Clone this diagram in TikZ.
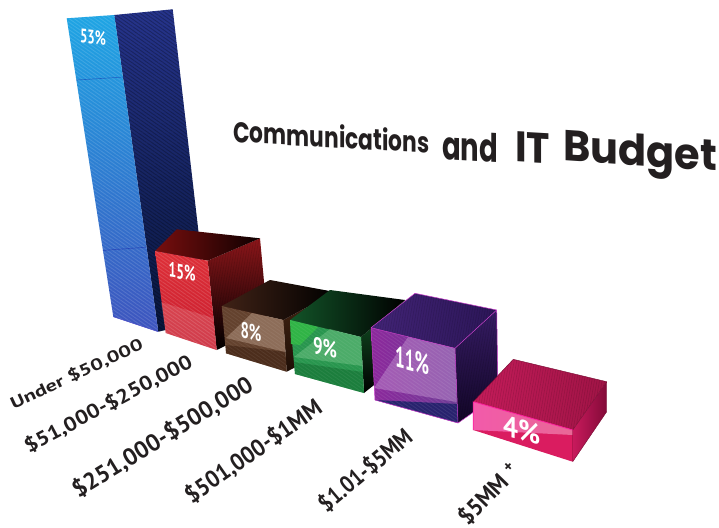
\documentclass[tikz,border=0pt]{standalone}
\usepackage{fontspec}
\setmainfont{PT Sans}
\newfontfamily\titlefont{Poppins}
\usetikzlibrary{patterns.meta,calc}
\definecolor{ink}{HTML}{231F20}
% blue
\definecolor{bSideT}{RGB}{38,52,140}
\definecolor{bSideB}{RGB}{8,22,60}
\definecolor{bFrontT}{RGB}{30,165,228}
\definecolor{bFrontB}{RGB}{62,84,190}
\definecolor{bEdge}{RGB}{70,70,200}
% red
\definecolor{rSide}{RGB}{140,22,26}
\definecolor{rTopL}{RGB}{120,14,14}
\definecolor{rTopR}{RGB}{14,0,0}
\definecolor{rFrontT}{RGB}{222,48,56}
\definecolor{rFrontB}{RGB}{200,28,46}
% brown
\definecolor{wSideT}{RGB}{70,38,20}
\definecolor{wSideB}{RGB}{30,14,6}
\definecolor{wTopL}{RGB}{64,34,22}
\definecolor{wFront}{RGB}{100,66,46}
\definecolor{wLight}{RGB}{176,146,126}
\definecolor{wDark}{RGB}{60,32,16}
% green
\definecolor{gSide}{RGB}{20,90,40}
\definecolor{gTopL}{RGB}{18,84,40}
\definecolor{gFront}{RGB}{40,150,78}
\definecolor{gBright}{RGB}{48,180,70}
\definecolor{gLight}{RGB}{120,200,140}
\definecolor{gDark}{RGB}{20,110,50}
% purple
\definecolor{pSideT}{RGB}{54,28,100}
\definecolor{pSideB}{RGB}{18,6,38}
\definecolor{pTopL}{RGB}{66,36,118}
\definecolor{pTopR}{RGB}{44,22,88}
\definecolor{pFrontL}{RGB}{140,40,156}
\definecolor{pFrontR}{RGB}{110,60,150}
\definecolor{pLight}{RGB}{190,140,205}
\definecolor{pNavy}{RGB}{40,34,110}
\definecolor{pEdge}{RGB}{200,60,200}
% pink
\definecolor{kSideL}{RGB}{200,26,92}
\definecolor{kSideR}{RGB}{130,10,56}
\definecolor{kTopL}{RGB}{196,28,90}
\definecolor{kTopR}{RGB}{160,20,70}
\definecolor{kFront}{RGB}{218,28,96}
\definecolor{kLightL}{RGB}{242,90,170}
\definecolor{kLightR}{RGB}{232,104,150}
\definecolor{kEdge}{RGB}{255,30,160}
\definecolor{kDark}{RGB}{120,10,50}
\tikzset{
  ttl/.style={inner sep=0pt, text=ink, font=\titlefont\bfseries, yslant=-0.056},
  lbl/.style={inner sep=0pt, text=ink, font=\bfseries, anchor=center},
  pct/.style={inner sep=0pt, text=white, font=\bfseries, anchor=center},
  stripesw/.style={pattern={Lines[angle=-35,distance=3pt,line width=0.9pt]}, pattern color=white, opacity=0.13},
  stripesk/.style={pattern={Lines[angle=-35,distance=3pt,line width=0.9pt]}, pattern color=black, opacity=0.25},
  vstripes/.style={pattern={Lines[angle=80,distance=2.5pt,line width=0.6pt]}, pattern color=black, opacity=0.12},
}
\begin{document}
\begin{tikzpicture}[x=1pt,y=-1pt]
\useasboundingbox (0,0) rectangle (719,527);
\fill[white] (0,0) rectangle (719,527);

% ---------- blue bar (53%)
\coordinate (b1) at (66.7,18.3);
\coordinate (b2) at (114.3,15);
\coordinate (b3) at (172.7,9.3);
\coordinate (b4) at (208.7,320);
\coordinate (b5) at (158.3,331.7);
\coordinate (b6) at (113.3,316.7);
\shade[top color=bSideT, bottom color=bSideB] (b2)--(b3)--(b4)--(b5)--cycle;
\fill[stripesk] (b2)--(b3)--(b4)--(b5)--cycle;
\shade[top color=bFrontT, bottom color=bFrontB] (b1)--(b2)--(b5)--(b6)--cycle;
\fill[stripesw] (b1)--(b2)--(b5)--(b6)--cycle;
\draw[blue!60!black, opacity=0.35, line width=0.6pt] ($(b1)!0.207!(b6)$) -- ($(b2)!0.196!(b5)$);
\draw[blue!60!black, opacity=0.35, line width=0.6pt] ($(b1)!0.778!(b6)$) -- ($(b2)!0.733!(b5)$);
\draw[bEdge, line width=0.5pt] (b6)--(b5);

% ---------- red box (15%)
\coordinate (r1) at (155,251);
\coordinate (r2) at (207.7,260.7);
\coordinate (r3) at (216.7,350);
\coordinate (r4) at (165.7,333);
\coordinate (r5) at (176.7,229.3);
\coordinate (r6) at (260,238.3);
\coordinate (r7) at (268,325);
\shade[top color=rSide, bottom color=black] (r2)--(r6)--(r7)--(r3)--cycle;
\fill[vstripes] (r2)--(r6)--(r7)--(r3)--cycle;
\shade[left color=rTopL, right color=rTopR] (r1)--(r5)--(r6)--(r2)--cycle;
\shade[top color=rFrontT, bottom color=rFrontB] (r1)--(r2)--(r3)--(r4)--cycle;
\fill[stripesw] (r1)--(r2)--(r3)--(r4)--cycle;
\fill[white, opacity=0.14] (161,302)--(213,318)--(r3)--(r4)--cycle;

% ---------- brown box (8%)
\coordinate (w1) at (221.7,306);
\coordinate (w2) at (283.3,320);
\coordinate (w3) at (286.7,371.7);
\coordinate (w4) at (226,353.3);
\coordinate (w5) at (270,280);
\coordinate (w6) at (335,292);
\coordinate (w7) at (338,345);
\shade[top color=wSideT, bottom color=wSideB] (w2)--(w6)--(w7)--(w3)--cycle;
\shade[left color=wTopL, right color=black] (w1)--(w5)--(w6)--(w2)--cycle;
\fill[wFront] (w1)--(w2)--(w3)--(w4)--cycle;
\fill[wLight, opacity=0.55] (252,313)--(w2)--(285.5,352)--(226,338)--cycle;
\fill[wDark, opacity=0.6] (226,345)--(285.5,352)--(w3)--(w4)--cycle;
\fill[stripesw, opacity=0.06] (w1)--(w2)--(w3)--(w4)--cycle;

% ---------- green box (9%)
\coordinate (g1) at (290,320);
\coordinate (g2) at (361,337);
\coordinate (g3) at (364,393);
\coordinate (g4) at (295,374);
\coordinate (g5) at (330,290);
\coordinate (g6) at (405,300);
\coordinate (g7) at (408,358);
\shade[top color=gSide, bottom color=black] (g2)--(g6)--(g7)--(g3)--cycle;
\shade[left color=gTopL, right color=black] (g1)--(g5)--(g6)--(g2)--cycle;
\fill[gFront] (g1)--(g2)--(g3)--(g4)--cycle;
\fill[gBright] (g1)--(318,327)--(300,345)--(291,344)--cycle;
\fill[gLight, opacity=0.45] (330,329)--(g2)--(362.5,366)--(294,357)--cycle;
\fill[gDark, opacity=0.6] (294,362)--(362.5,372)--(g3)--(g4)--cycle;
\fill[stripesw, opacity=0.06] (g1)--(g2)--(g3)--(g4)--cycle;

% ---------- purple box (11%)
\coordinate (p1) at (371,327.7);
\coordinate (p2) at (455,348.3);
\coordinate (p3) at (458,423);
\coordinate (p4) at (375,400);
\coordinate (p5) at (415,293.3);
\coordinate (p6) at (496.7,310);
\coordinate (p7) at (498,395);
\shade[top color=pSideT, bottom color=pSideB] (p2)--(p6)--(p7)--(p3)--cycle;
\fill[vstripes] (p2)--(p6)--(p7)--(p3)--cycle;
\shade[left color=pTopL, right color=pTopR] (p1)--(p5)--(p6)--(p2)--cycle;
\fill[vstripes] (p1)--(p5)--(p6)--(p2)--cycle;
\shade[left color=pFrontL, right color=pFrontR] (p1)--(p2)--(p3)--(p4)--cycle;
\fill[pLight, opacity=0.5] (408,337)--(p2)--(456.7,402)--(374,388)--cycle;
\fill[pNavy] (p4)--(458,404)--(p3)--cycle;
\fill[stripesw, opacity=0.08] (p1)--(p2)--(p3)--(p4)--cycle;
\draw[pEdge, line width=0.5pt, line join=round] (p4)--(p1)--(p2)--(p3)--cycle (p1)--(p5)--(p6)--(p2) (p6)--(p7)--(p3);

% ---------- pink box (4%)
\coordinate (k1) at (473.3,401.7);
\coordinate (k2) at (572.7,430);
\coordinate (k3) at (572.7,461.7);
\coordinate (k4) at (473.3,430);
\coordinate (k5) at (513.3,359.3);
\coordinate (k6) at (606.7,381.7);
\coordinate (k7) at (606.7,411.7);
\shade[left color=kSideL, right color=kSideR] (k2)--(k6)--(k7)--(k3)--cycle;
\shade[left color=kTopL, right color=kTopR] (k1)--(k5)--(k6)--(k2)--cycle;
\fill[vstripes] (k1)--(k5)--(k6)--(k2)--cycle;
\fill[kFront] (k1)--(k2)--(k3)--(k4)--cycle;
\shade[left color=kLightL, right color=kLightR] (k1)--(k2)--(572.7,435)--(k4)--cycle;
\draw[kEdge, line width=0.8pt] (k4)--(k1)--(k2);
\draw[kDark, line width=0.4pt, line join=round] (k1)--(k5)--(k6)--(k2) (k6)--(k7)--(k3)--(k2);

% ---------- percentages
\node[pct, yslant=-0.10] (v53) at (93,37) {\resizebox{26pt}{14pt}{53\%}};
\node[pct, yslant=-0.19] (v15) at (182,272) {\resizebox{27pt}{15pt}{15\%}};
\node[pct, yslant=-0.21] (v8) at (251,332) {\resizebox{21pt}{16pt}{8\%}};
\node[pct, yslant=-0.23] (v9) at (325,348) {\resizebox{24pt}{17pt}{9\%}};
\node[pct, yslant=-0.27] (v11) at (412,361) {\resizebox{34pt}{21pt}{11\%}};
\node[pct, yslant=-0.27] (v4) at (522,430) {\resizebox{37pt}{21pt}{4\%}};

% ---------- category labels
\node[lbl] (c1) at (76.7,374) {\rotatebox{25}{\resizebox{144pt}{13pt}{Under \$50,000}}};
\node[lbl] (c2) at (108.3,404.2) {\rotatebox{28}{\resizebox{187pt}{16pt}{\$51,000-\$250,000}}};
\node[lbl] (c3) at (162.5,437.5) {\rotatebox{31.5}{\resizebox{207pt}{19pt}{\$251,000-\$500,000}}};
\node[lbl] (c4) at (253.3,451.7) {\rotatebox{35}{\resizebox{161pt}{19pt}{\$501,000-\$1MM}}};
\node[lbl] (c5) at (365,470) {\rotatebox{40}{\resizebox{114pt}{19pt}{\$1.01-\$5MM}}};
\node[lbl] (c6) at (488,494) {\rotatebox{46}{\resizebox{75pt}{19pt}{\$5MM\hspace{0.3em}\raisebox{0.3em}{\scriptsize +}}}};

% ---------- title
\node[ttl, anchor=base west] (t1) at (233,142) {\resizebox{196pt}{23pt}{Communications}};
\node[ttl, anchor=base west] (t2) at (442,159.5) {\resizebox{56pt}{29pt}{and}};
\node[ttl, anchor=base west] (t3) at (515,161.5) {\resizebox{35pt}{30pt}{IT}};
\node[ttl, anchor=base west, yslant=-0.012] (t4) at (563,160.5) {\resizebox{154pt}{32pt}{Budget}};
\end{tikzpicture}
\end{document}
